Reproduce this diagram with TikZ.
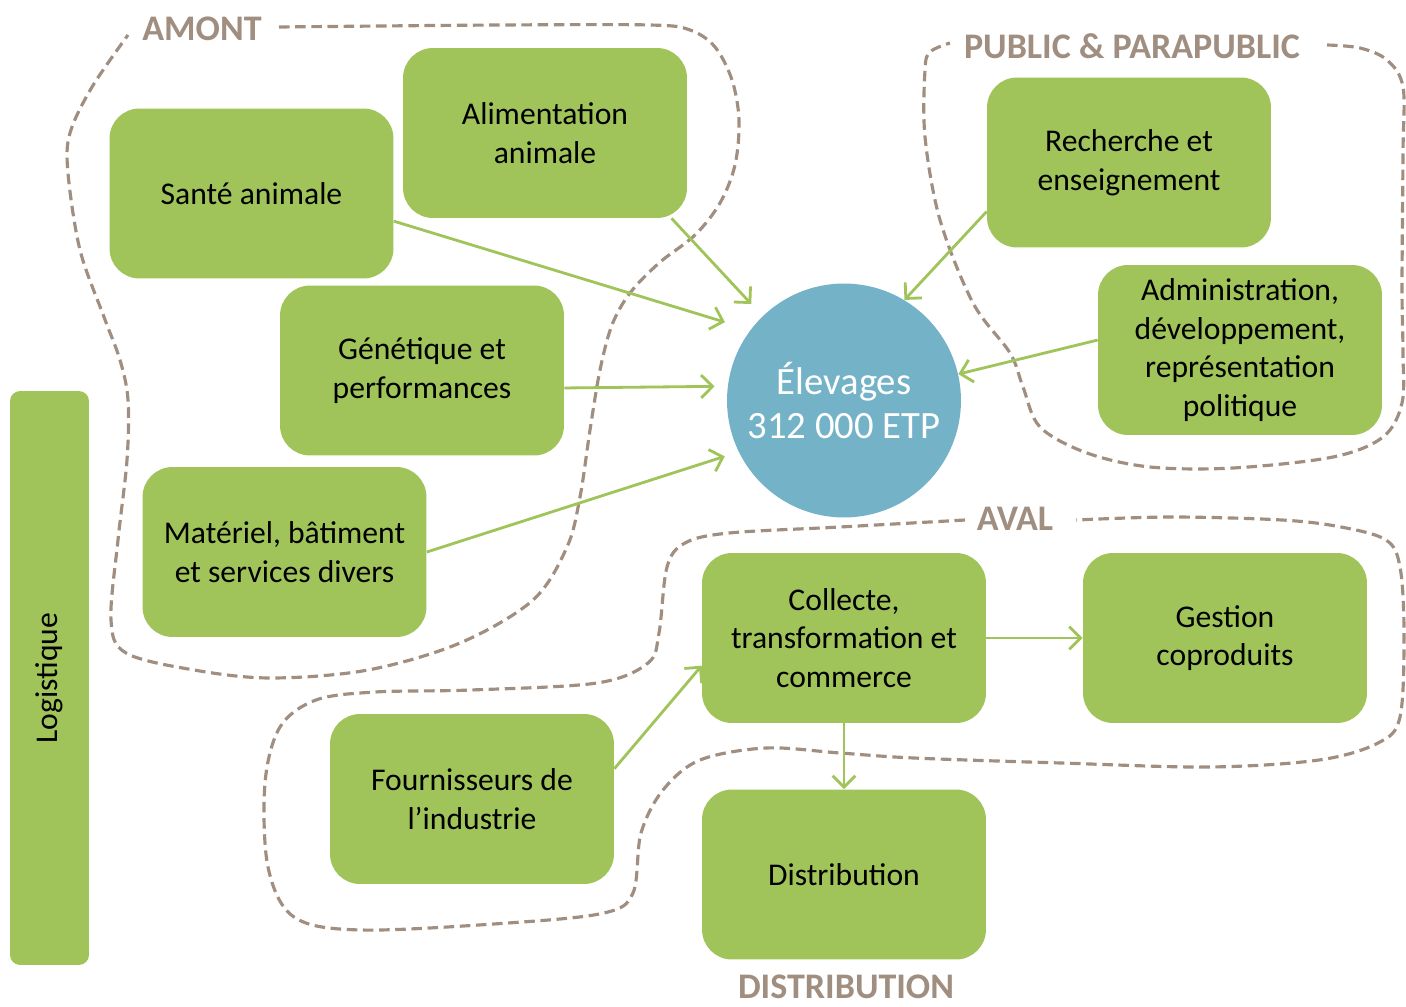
\documentclass[tikz,border=0pt]{standalone}
\usepackage{fontspec}
\setmainfont{Carlito}
\usetikzlibrary{arrows.meta}
\definecolor{boxgreen}{HTML}{A0C459}
\definecolor{elevblue}{HTML}{74B3C7}
\definecolor{zonebrown}{HTML}{A08E80}
\begin{document}
\begin{tikzpicture}[x=0.02cm,y=-0.02cm,
  box/.style={fill=boxgreen, rounded corners=0.6cm, minimum width=5.68cm, minimum height=3.4cm,
    align=center, inner sep=0pt, font=\fontsize{18}{22}\selectfont},
  arr/.style={draw=boxgreen, line width=1.6pt,
    -{Straight Barb[length=6.5pt,width=13pt,line width=1.6pt]}},
  zone/.style={draw=zonebrown, line width=1.8pt, dash pattern=on 6pt off 3.2pt},
  zonelabel/.style={text=zonebrown, inner sep=0pt, font=\bfseries\fontsize{20.5}{24}\selectfont}]
\useasboundingbox (0,0) rectangle (1406,1007);

% zones
\draw[zone] plot[smooth, tension=0.55] coordinates {
  (279,27) (500,25) (650,25) (690,30) (715,47) (732,80) (739,120) (735,165) (720,203)
  (695,235) (659,263)
  (630,293) (612,325) (600,370) (590,430) (580,497) (567,547) (533,600) (460,643)
  (368,670) (271,678) (194,670) (126,653) (111,620) (118,540) (127,460) (128,400)
  (120,360) (104,317) (80,250) (68,173) (70,133) (92,87) (128,35)};
\draw[zone] plot[smooth, tension=0.55] coordinates {
  (1327,45) (1360,48) (1387,60) (1403,87) (1403,153) (1402,287) (1403,353) (1402,403)
  (1383,437) (1333,457) (1233,468) (1150,467) (1087,453) (1040,427) (1023,387)
  (1010,353) (973,303) (940,220) (925,137) (925,70) (930,52) (950,43)};
\draw[zone] plot[smooth, tension=0.55] coordinates {
  (965,520) (840,527) (729,533) (685,543) (667,567) (659,633) (648,663) (597,683)
  (471,690) (375,692) (316,700) (280,727) (265,783) (268,867) (294,917) (361,930)
  (508,923) (604,913) (633,893) (641,833) (663,790) (700,760) (766,748) (840,753)
  (914,758) (1061,763) (1209,767) (1319,760) (1378,743) (1400,717) (1404,633)
  (1400,567) (1386,540) (1341,527) (1282,520) (1172,517) (1076,520)};

% zone labels
\node[zonelabel] (lamont) at (202,29) {AMONT};
\node[zonelabel] (lpub) at (1132,46) {PUBLIC \& PARAPUBLIC};
\node[zonelabel] (laval) at (1015,519) {AVAL};
\node[zonelabel] (ldist) at (846,987) {DISTRIBUTION};

% boxes
\node[box] (sante) at (251.5,193.5) {Santé animale};
\node[box] (alim) at (545,133) {Alimentation\\animale};
\node[box] (gene) at (422,370.5) {Génétique et\\performances};
\node[box] (mat) at (284.5,552) {Matériel, bâtiment\\et services divers};
\node[box] (rech) at (1129,162.5) {Recherche et\\enseignement};
\node[box] (admin) at (1240,350) {Administration,\\développement,\\représentation\\politique};
\node[box] (coll) at (844,638) {Collecte,\\transformation et\\commerce};
\node[box] (gest) at (1225,638) {Gestion\\coproduits};
\node[box] (four) at (472,799) {Fournisseurs de\\l’industrie};
\node[box] (dist) at (844,874.5) {Distribution};
\node[box, rotate=90, rounded corners=0.2cm, minimum width=11.48cm, minimum height=1.58cm] (logi) at (49.5,678) {Logistique};

\node[circle, fill=elevblue, minimum size=4.68cm, inner sep=0pt, text=white, align=center,
  font=\fontsize{22}{24.5}\selectfont] (elev) at (844,400.5) {Élevages\\312 000 ETP};

% arrows
\draw[arr, shorten >=0.53cm] (sante.-11.4) -- (elev.143.1);
\draw[arr, shorten >=0.33cm] (alim.-34.9) -- (elev.134.7);
\draw[arr, shorten >=0.26cm] (gene.-7.8) -- (elev.173.2);
\draw[arr, shorten >=0.29cm] (mat.0) -- (elev.206.1);
\draw[arr] (rech.199.6) -- (elev.59.6);
\draw[arr] (admin.176.8) -- (elev.13.8);
\draw[arr] (four.12.7) -- (coll.191.2);
\draw[arr] (coll.east) -- (gest.west);
\draw[arr] (coll.south) -- (dist.north);
\end{tikzpicture}
\end{document}
